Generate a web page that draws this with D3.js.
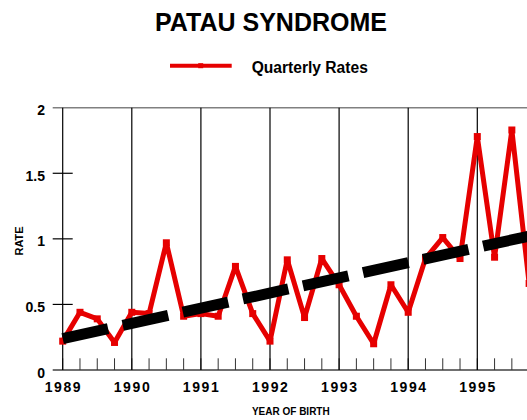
<!DOCTYPE html>
<html>
<head>
<meta charset="utf-8">
<script src="https://cdn.jsdelivr.net/npm/d3@7/dist/d3.min.js"></script>
<style>
  html, body { margin: 0; padding: 0; background: #fff; overflow: hidden; }
  text { font-family: "Liberation Sans", Arial, Helvetica, sans-serif; font-weight: bold; fill: #000; }
</style>
</head>
<body>
<svg id="chart" width="527" height="420"></svg>
<script>
// ---- data ----
const quarterYears = [
  1989, 1989.25, 1989.5, 1989.75,
  1990, 1990.25, 1990.5, 1990.75,
  1991, 1991.25, 1991.5, 1991.75,
  1992, 1992.25, 1992.5, 1992.75,
  1993, 1993.25, 1993.5, 1993.75,
  1994, 1994.25, 1994.5, 1994.75,
  1995, 1995.25, 1995.5, 1995.75
];
const quarterlyRates = [
  0.22, 0.44, 0.39, 0.21,
  0.44, 0.43, 0.97, 0.41,
  0.43, 0.41, 0.79, 0.43,
  0.22, 0.84, 0.40, 0.85,
  0.65, 0.41, 0.20, 0.65,
  0.44, 0.85, 1.01, 0.85,
  1.78, 0.86, 1.83, 0.66
];
const trendYears = [1989, 1996];
const trendValues = [0.24, 1.05];
const yearTicks = [1989, 1990, 1991, 1992, 1993, 1994, 1995];
const yTickValues = [0, 0.5, 1, 1.5, 2];
const yTickLabels = ["0", "0.5", "1", "1.5", "2"];
const titleText = "PATAU SYNDROME";
const legendLabel = "Quarterly Rates";
const xTitle = "YEAR OF BIRTH";
const yTitle = "RATE";

// ---- layout ----
const svg = d3.select("#chart");
const W = 527;
const x0 = 62.7, pxPerYear = 69.1;
const x = d3.scaleLinear().domain([1989, 1996]).range([x0, x0 + 7 * pxPerYear]);
const y = d3.scaleLinear().domain([0, 2]).range([370, 107.7]);
const RED = "#e60000";

// title
svg.append("text").attr("x", 271).attr("y", 30.7).attr("text-anchor", "middle")
  .style("font-size", "25px").text(titleText);

// legend
svg.append("line").attr("x1", 170).attr("x2", 231.7).attr("y1", 65.7).attr("y2", 65.7)
  .attr("stroke", RED).attr("stroke-width", 4);
svg.append("rect").attr("x", 200.7 - 2.5).attr("y", 65.7 - 2.5).attr("width", 5).attr("height", 5).attr("fill", RED);
svg.append("text").attr("x", 251.7).attr("y", 72.7).style("font-size", "15.6px").text(legendLabel);

// frame lines (top and bottom)
const gFrame = svg.append("g");
gFrame.append("line").attr("x1", 52.7).attr("x2", W).attr("y1", y(2)).attr("y2", y(2))
  .attr("stroke", "#808080").attr("stroke-width", 1.5);

// quarter ticks
const quarterTicks = d3.range(1989, 1996, 0.25);
svg.append("g").selectAll("line").data(quarterTicks).join("line")
  .attr("x1", d => x(d)).attr("x2", d => x(d))
  .attr("y1", y(0) - 11.7).attr("y2", y(0))
  .attr("stroke", "#333").attr("stroke-width", 1);

// year grid lines
svg.append("g").selectAll("line").data(yearTicks).join("line")
  .attr("x1", d => x(d)).attr("x2", d => x(d))
  .attr("y1", y(2)).attr("y2", y(0))
  .attr("stroke", "#000").attr("stroke-width", 1.2);

// y ticks
svg.append("g").selectAll("line").data(yTickValues.filter(v => v > 0 && v < 2)).join("line")
  .attr("x1", 52.7).attr("x2", 72.7)
  .attr("y1", d => y(d)).attr("y2", d => y(d))
  .attr("stroke", "#000").attr("stroke-width", 1.2);

// bottom axis line
gFrame.append("line").attr("x1", 52.7).attr("x2", W).attr("y1", y(0)).attr("y2", y(0))
  .attr("stroke", "#707070").attr("stroke-width", 2);

// y labels
svg.append("g").selectAll("text").data(yTickValues).join("text")
  .attr("x", 45).attr("y", d => y(d) + 7.5).attr("text-anchor", "end")
  .style("font-size", "14px").text((d, i) => yTickLabels[i]);

// x labels
svg.append("g").selectAll("text").data(yearTicks).join("text")
  .attr("x", d => x(d) + 0.7).attr("y", 391.5).attr("text-anchor", "middle")
  .style("font-size", "14px").style("letter-spacing", "1.6px").text(d => d);

// axis titles
svg.append("text").attr("x", 290.8).attr("y", 415).attr("text-anchor", "middle")
  .style("font-size", "10px").text(xTitle);
svg.append("text").attr("transform", "translate(23,241) rotate(-90)").attr("text-anchor", "middle")
  .style("font-size", "11px").text(yTitle);

// quarterly rates line
const pts = quarterYears.map((yr, i) => [yr, quarterlyRates[i]]);
svg.append("path").datum(pts)
  .attr("d", d3.line().x(d => x(d[0])).y(d => y(d[1])))
  .attr("fill", "none").attr("stroke", RED).attr("stroke-width", 5).attr("stroke-linejoin", "round");
svg.append("g").selectAll("rect").data(pts).join("rect")
  .attr("x", d => x(d[0]) - 3.5).attr("y", d => y(d[1]) - 3.5)
  .attr("width", 7).attr("height", 7).attr("fill", RED);

// trend line
const tpts = trendYears.map((yr, i) => [yr, trendValues[i]]);
svg.append("path").datum(tpts)
  .attr("d", d3.line().x(d => x(d[0])).y(d => y(d[1])))
  .attr("fill", "none").attr("stroke", "#000").attr("stroke-width", 11)
  .attr("stroke-dasharray", "46.5,15");
</script>
</body>
</html>
